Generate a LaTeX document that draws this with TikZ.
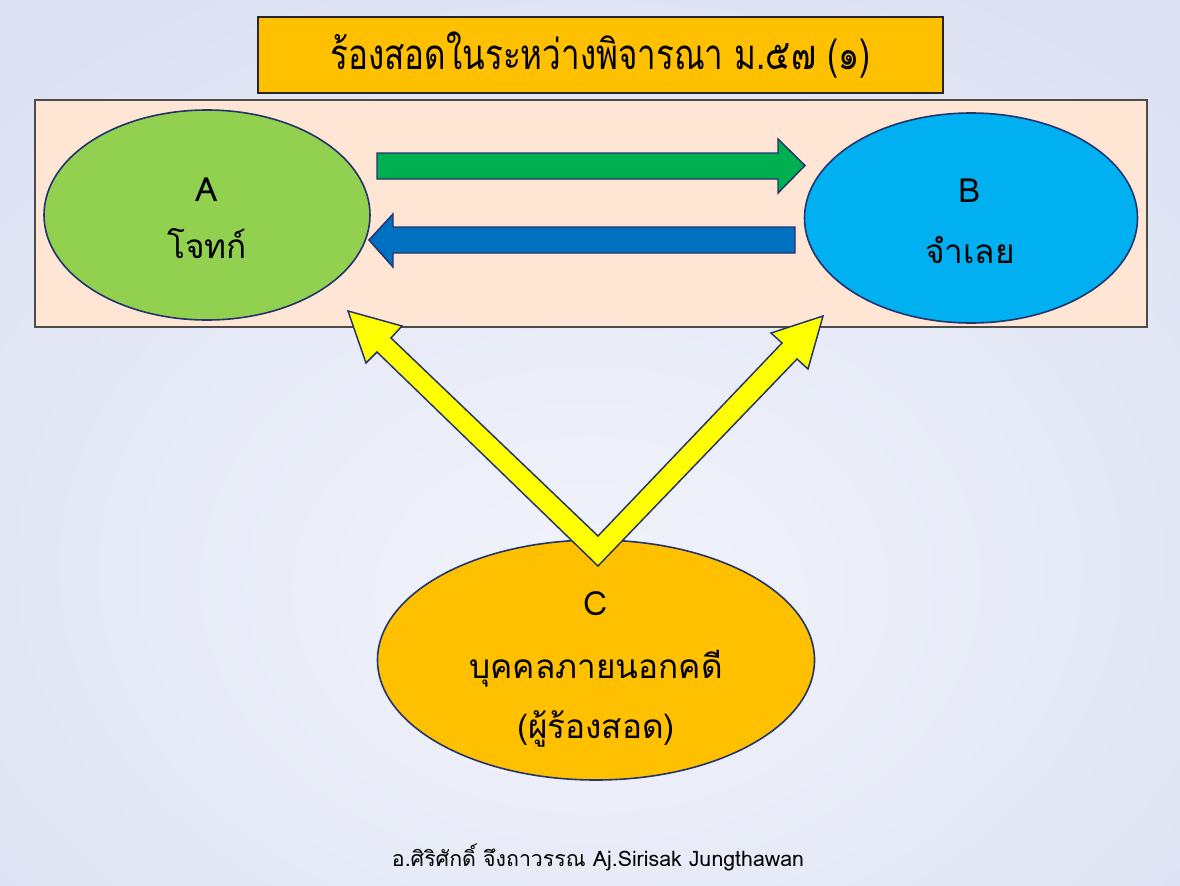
\documentclass[tikz,border=0pt]{standalone}
\usepackage{fontspec}
\newfontfamily\thai[Script=Thai]{Loma}
\usetikzlibrary{shapes.geometric}
\definecolor{bgmid}{HTML}{DDE2F3}
\definecolor{bgedge}{HTML}{B9C3EA}
\definecolor{bgin}{HTML}{F2F4FB}
\definecolor{peach}{HTML}{FFE5D4}
\definecolor{titleor}{HTML}{FFC000}
\definecolor{ellA}{HTML}{92D050}
\definecolor{ellB}{HTML}{00B0F0}
\definecolor{ellC}{HTML}{FFC000}
\definecolor{arrG}{HTML}{00B050}
\definecolor{arrB}{HTML}{0070C0}
\definecolor{arrY}{HTML}{FFFF00}
\definecolor{navy}{HTML}{23336E}
\pgfdeclareradialshading{bgshade}{\pgfpoint{0bp}{-10bp}}{%
  color(0bp)=(bgin); color(35bp)=(bgmid); color(52bp)=(bgmid); color(75bp)=(bgedge)}
\tikzset{
  ell/.style={ellipse, draw=navy, line width=1.2pt, inner sep=0pt},
  lbl/.style={anchor=base, inner sep=0pt, font=\thai\fontsize{25}{30}\selectfont},
  blockarrow/.style={draw=navy, line width=1.1pt, line join=miter},
}
\begin{document}
\begin{tikzpicture}[x=0.75pt,y=-0.75pt]
\useasboundingbox (0,0) rectangle (1180,885);
\shade[shading=bgshade] (0,0) rectangle (1180,885);
% title
\node[draw=black!85, line width=1pt, fill=titleor, minimum width=513.75pt, minimum height=57pt, inner sep=0pt,
  font=\thai\fontsize{30}{36}\selectfont] (title) at (600.5,55) {\scalebox{0.83}[1.05]{ร้องสอดในระหว่างพิจารณา ม.๕๗ (๑)}};
% peach panel
\node[draw=black!70, line width=1.3pt, fill=peach, minimum width=834pt, minimum height=170.25pt, inner sep=0pt] (panel) at (591,213.5) {};
% ellipses
\node[ell, fill=ellA, minimum width=244.5pt, minimum height=157.5pt] (A) at (207,215) {};
\node[lbl] (A1) at (207,201) {A};
\node[lbl] (A2) at (207,258) {โจทก์};
\node[ell, fill=ellB, minimum width=249.75pt, minimum height=157.5pt] (B) at (971,218) {};
\node[lbl] (B1) at (970,202) {B};
\node[lbl] (B2) at (970,263) {จำเลย};
% arrows between A and B
\draw[blockarrow, fill=arrG] (377,153) -- (778,153) -- (778,139) -- (805,165.5) -- (778,193) -- (778,179) -- (377,179) -- cycle;
\draw[blockarrow, fill=arrB] (795,227) -- (393,227) -- (393,214) -- (369,240) -- (393,267) -- (393,253) -- (795,253) -- cycle;
% ellipse C
\node[ell, fill=ellC, minimum width=327.75pt, minimum height=180pt] (C) at (596,660) {};
\node[lbl] (C1) at (596,615) {C};
\node[lbl] (C2) at (596,678) {บุคคลภายนอกคดี};
\node[lbl] (C3) at (596,738) {(ผู้ร้องสอด)};
% yellow V arrow
\draw[blockarrow, fill=arrY] (348,311) -- (402,326) -- (391,338) -- (598,536) -- (782,343) -- (771,333) -- (823,316) -- (808,369) -- (797,359) -- (598,566) -- (377,352) -- (366,363) -- cycle;
% footer
\node[font=\thai\fontsize{16}{19}\selectfont] (foot) at (598,857) {อ.ศิริศักดิ์ จึงถาวรรณ Aj.Sirisak Jungthawan};
\end{tikzpicture}
\end{document}
